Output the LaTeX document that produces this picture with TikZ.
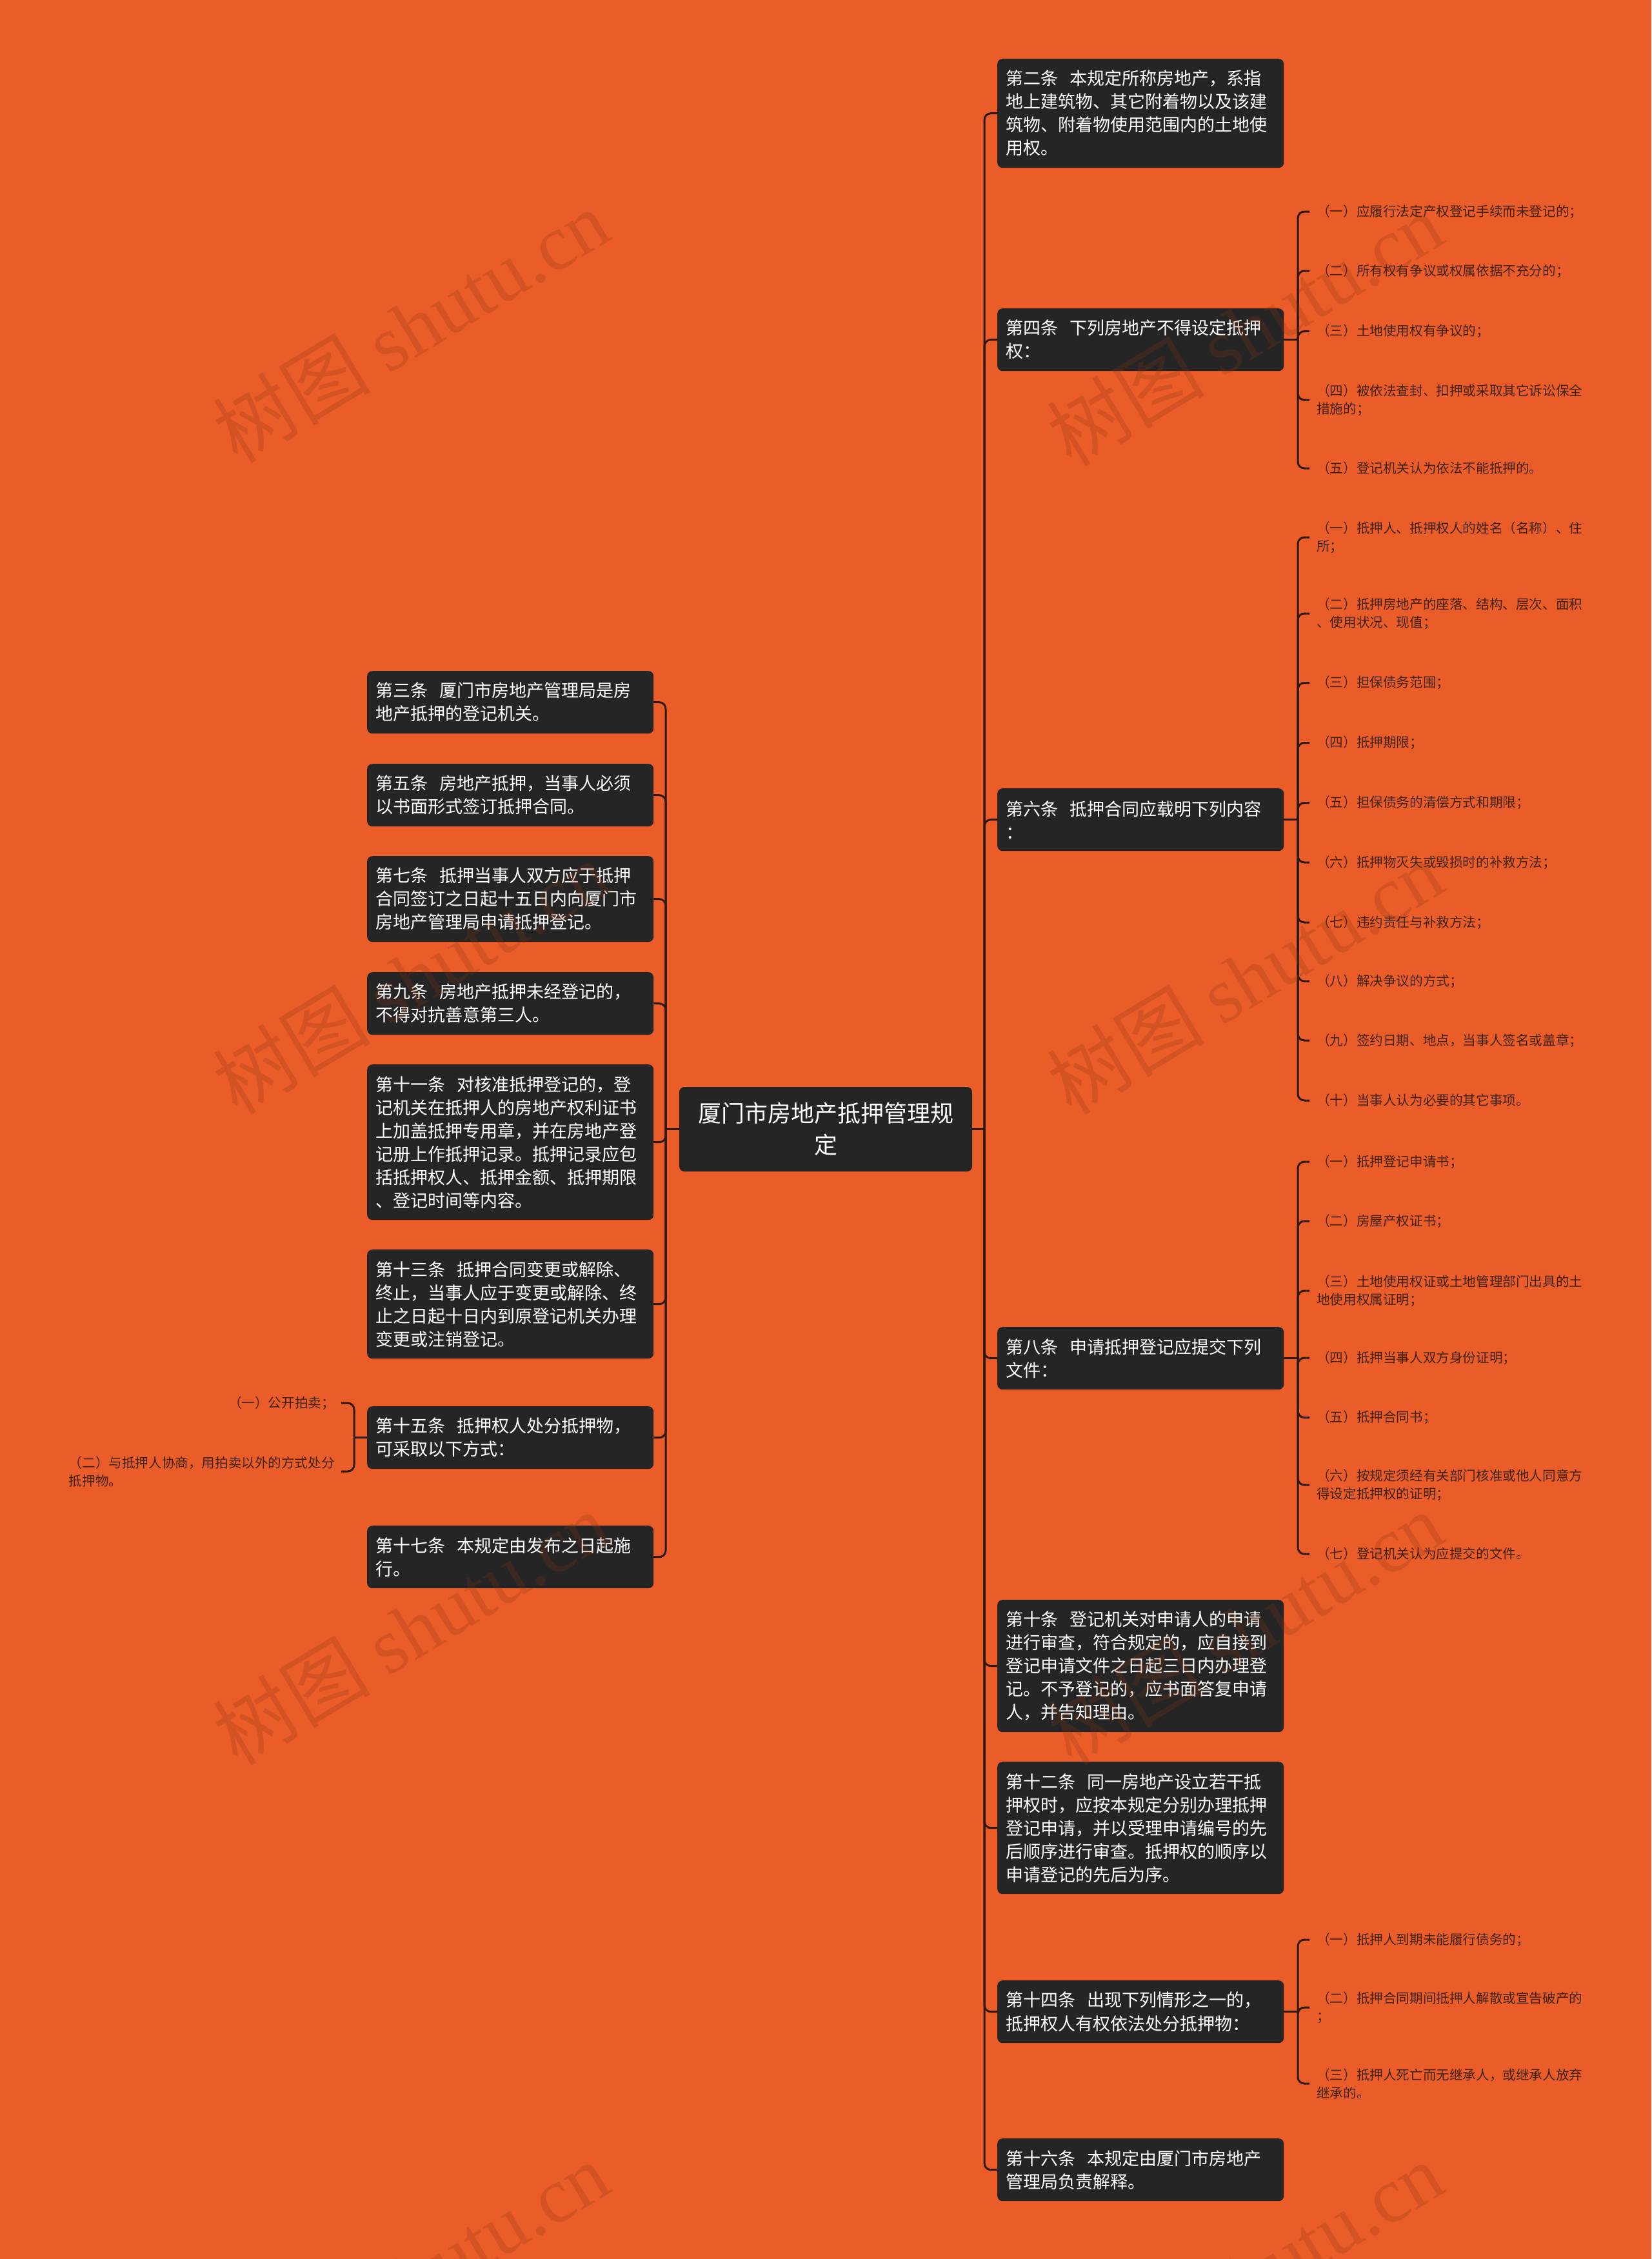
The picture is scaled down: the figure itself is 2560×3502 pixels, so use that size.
\documentclass[tikz,border=0pt]{standalone}
\usepackage{fontspec}
\setmainfont{Noto Sans CJK SC}
\newfontfamily\wmlatin{Liberation Serif}
\definecolor{bgc}{HTML}{EA5D28}
\definecolor{boxc}{HTML}{252525}
\definecolor{linec}{HTML}{2E180B}
\definecolor{leafc}{HTML}{3E2216}
\definecolor{wmc}{HTML}{8A3414}
\begin{document}
\begin{tikzpicture}[x=1pt,y=-1pt,
  box/.style={fill=boxc, rounded corners=8pt, text=white, font=\fontsize{27}{36}\selectfont,
    text width=418pt, align=left, inner xsep=13pt, inner ysep=0pt, anchor=north west},
  l2/.style={box, minimum height=97pt},
  l3/.style={box, minimum height=133pt},
  l4/.style={box, minimum height=169pt},
  l5/.style={box, minimum height=205pt},
  l6/.style={box, minimum height=241pt},
  leafr/.style={text=leafc, font=\fontsize{20.6}{28}\selectfont, align=left, inner xsep=11pt, inner ysep=0pt, anchor=west},
  leafl/.style={text=leafc, font=\fontsize{20.6}{28}\selectfont, align=left, inner xsep=10pt, inner ysep=0pt, anchor=east},
  conn/.style={draw=linec, line width=3pt},
  rconn/.style={conn, rounded corners=10pt},
  wm/.style={text=wmc, opacity=0.22, rotate=31, font=\fontsize{122}{122}\selectfont}
]
\useasboundingbox (0,0) rectangle (2560,3502);
\fill[bgc] (0,0) rectangle (2560,3502);

\coordinate (sr) at (1526,0);
\coordinate (sl) at (1032,0);
\coordinate (br) at (2012,0);
\coordinate (bl) at (549,0);

% central node
\node[fill=boxc, rounded corners=8pt, text=white, font=\fontsize{36}{49}\selectfont, align=center,
  minimum width=454pt, minimum height=131pt, inner sep=0pt] (c) at (1280,1750.5)
  {厦门市房地产抵押管理规\\定};

% right boxes
\node[l4] (n2) at (1546,91) {第二条~~本规定所称房地产，系指\\地上建筑物、其它附着物以及该建\\筑物、附着物使用范围内的土地使\\用权。};
\node[l2] (n4) at (1546,478) {第四条~~下列房地产不得设定抵押\\权：};
\node[l2] (n6) at (1546,1222) {第六条~~抵押合同应载明下列内容\\：};
\node[l2] (n8) at (1546,2057) {第八条~~申请抵押登记应提交下列\\文件：};
\node[l5] (n10) at (1546,2480) {第十条~~登记机关对申请人的申请\\进行审查，符合规定的，应自接到\\登记申请文件之日起三日内办理登\\记。不予登记的，应书面答复申请\\人，并告知理由。};
\node[l5] (n12) at (1546,2731) {第十二条~~同一房地产设立若干抵\\押权时，应按本规定分别办理抵押\\登记申请，并以受理申请编号的先\\后顺序进行审查。抵押权的顺序以\\申请登记的先后为序。};
\node[l2] (n14) at (1546,3070) {第十四条~~出现下列情形之一的，\\抵押权人有权依法处分抵押物：};
\node[l2] (n16) at (1546,3315) {第十六条~~本规定由厦门市房地产\\管理局负责解释。};

% left boxes
\node[l2] (n3) at (569,1040) {第三条~~厦门市房地产管理局是房\\地产抵押的登记机关。};
\node[l2] (n5) at (569,1184) {第五条~~房地产抵押，当事人必须\\以书面形式签订抵押合同。};
\node[l3] (n7) at (569,1327) {第七条~~抵押当事人双方应于抵押\\合同签订之日起十五日内向厦门市\\房地产管理局申请抵押登记。};
\node[l2] (n9) at (569,1507) {第九条~~房地产抵押未经登记的，\\不得对抗善意第三人。};
\node[l6] (n11) at (569,1650) {第十一条~~对核准抵押登记的，登\\记机关在抵押人的房地产权利证书\\上加盖抵押专用章，并在房地产登\\记册上作抵押记录。抵押记录应包\\括抵押权人、抵押金额、抵押期限\\、登记时间等内容。};
\node[l4] (n13) at (569,1937) {第十三条~~抵押合同变更或解除、\\终止，当事人应于变更或解除、终\\止之日起十日内到原登记机关办理\\变更或注销登记。};
\node[l2] (n15) at (569,2180) {第十五条~~抵押权人处分抵押物，\\可采取以下方式：};
\node[l2] (n17) at (569,2365) {第十七条~~本规定由发布之日起施\\行。};

% leaves of n4
\node[leafr] (a1) at (2030,328) {（一）应履行法定产权登记手续而未登记的；};
\node[leafr] (a2) at (2030,420) {（二）所有权有争议或权属依据不充分的；};
\node[leafr] (a3) at (2030,513.5) {（三）土地使用权有争议的；};
\node[leafr] (a4) at (2030,620) {（四）被依法查封、扣押或采取其它诉讼保全\\措施的；};
\node[leafr] (a5) at (2030,726) {（五）登记机关认为依法不能抵押的。};

% leaves of n6
\node[leafr] (b1) at (2030,833) {（一）抵押人、抵押权人的姓名（名称）、住\\所；};
\node[leafr] (b2) at (2030,951) {（二）抵押房地产的座落、结构、层次、面积\\、使用状况、现值；};
\node[leafr] (b3) at (2030,1058.5) {（三）担保债务范围；};
\node[leafr] (b4) at (2030,1151.5) {（四）抵押期限；};
\node[leafr] (b5) at (2030,1244.5) {（五）担保债务的清偿方式和期限；};
\node[leafr] (b6) at (2030,1337) {（六）抵押物灭失或毁损时的补救方法；};
\node[leafr] (b7) at (2030,1430) {（七）违约责任与补救方法；};
\node[leafr] (b8) at (2030,1521) {（八）解决争议的方式；};
\node[leafr] (b9) at (2030,1613) {（九）签约日期、地点，当事人签名或盖章；};
\node[leafr] (b10) at (2030,1706) {（十）当事人认为必要的其它事项。};

% leaves of n8
\node[leafr] (d1) at (2030,1801) {（一）抵押登记申请书；};
\node[leafr] (d2) at (2030,1893) {（二）房屋产权证书；};
\node[leafr] (d3) at (2030,2001) {（三）土地使用权证或土地管理部门出具的土\\地使用权属证明；};
\node[leafr] (d4) at (2030,2105) {（四）抵押当事人双方身份证明；};
\node[leafr] (d5) at (2030,2197.5) {（五）抵押合同书；};
\node[leafr] (d6) at (2030,2302) {（六）按规定须经有关部门核准或他人同意方\\得设定抵押权的证明；};
\node[leafr] (d7) at (2030,2409) {（七）登记机关认为应提交的文件。};

% leaves of n14
\node[leafr] (e1) at (2030,3007) {（一）抵押人到期未能履行债务的；};
\node[leafr] (e2) at (2030,3112) {（二）抵押合同期间抵押人解散或宣告破产的\\；};
\node[leafr] (e3) at (2030,3230) {（三）抵押人死亡而无继承人，或继承人放弃\\继承的。};

% leaves of n15 (left)
\node[leafl] (f1) at (529,2175) {（一）公开拍卖；};
\node[leafl] (f2) at (529,2281) {（二）与抵押人协商，用拍卖以外的方式处分\\抵押物。};

% connectors: center to right boxes
\draw[conn] (c.east) -- (c.east -| sr);
\foreach \n in {n2,n4,n6,n8,n10,n12,n14,n16}
  \draw[rconn] (c.east -| sr) |- (\n.west);
% center to left boxes
\draw[conn] (c.west) -- (c.west -| sl);
\foreach \n in {n3,n5,n7,n9,n11,n13,n15,n17}
  \draw[rconn] (c.west -| sl) |- (\n.east);

% box to leaves
\draw[conn] (n4.east) -- (n4.east -| br);
\foreach \n in {a1,a2,a3,a4,a5}
  \draw[rconn] (n4.east -| br) |- (\n.west);
\draw[conn] (n6.east) -- (n6.east -| br);
\foreach \n in {b1,b2,b3,b4,b5,b6,b7,b8,b9,b10}
  \draw[rconn] (n6.east -| br) |- (\n.west);
\draw[conn] (n8.east) -- (n8.east -| br);
\foreach \n in {d1,d2,d3,d4,d5,d6,d7}
  \draw[rconn] (n8.east -| br) |- (\n.west);
\draw[conn] (n14.east) -- (n14.east -| br);
\foreach \n in {e1,e2,e3}
  \draw[rconn] (n14.east -| br) |- (\n.west);
\draw[conn] (n15.west) -- (n15.west -| bl);
\foreach \n in {f1,f2}
  \draw[rconn] (n15.west -| bl) |- (\n.east);

% watermarks
\foreach \px/\py [count=\i] in {637/505,1930/510,637/1515,1930/1515,637/2524,1930/2524,637/3532,1930/3532}
  \node[wm] (wm\i) at (\px,\py) {树图 {\wmlatin shutu.cn}};
\end{tikzpicture}
\end{document}
